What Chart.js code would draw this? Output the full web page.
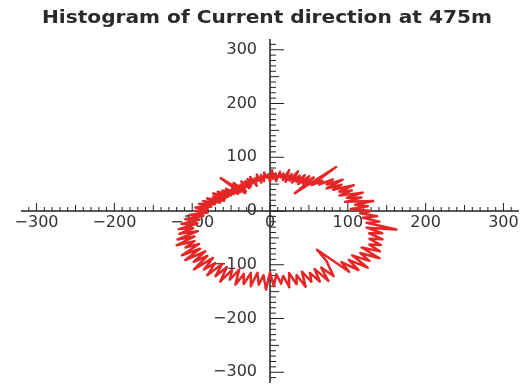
<!DOCTYPE html>
<html lang="en">
<head>
<meta charset="UTF-8">
<title>Histogram of Current direction at 475m</title>
<script src="https://cdn.jsdelivr.net/npm/chart.js@4"></script>
<style>
    html, body { margin: 0; padding: 0; background: #ffffff; }
    #wrap { width: 530px; height: 390px; }
</style>
</head>
<body>
<div id="wrap"><canvas id="chart"></canvas></div>
<script>
const titleText = "Histogram of Current direction at 475m";

// direction bins (degrees, counter-clockwise from east) and counts per bin
const binWidth = 2;
const counts = [
    130, 104, 126, 110, 134,  98, 120, 102, 124,  94,
    112,  96, 118,  90, 104,  84, 110,  88, 100,  80,
     88,  72, 118,  46,  84,  66,  82,  62,  80,  64,
     76,  60,  82,  62,  74,  58,  80,  60,  72,  64,
     74,  56,  70,  60,  76,  54,  68,  62,  72,  56,
     68,  54,  70,  58,  64,  50,  68,  56,  66,  52,
     64,  50,  66,  54,  62,  48,  70,  46,  88,  52,
     64,  52,  70,  56,  72,  58,  76,  60,  80,  62,
     78,  62,  84,  66,  88,  72,  92,  76,  96,  80,
     96,  80, 104,  86, 110,  92, 116,  96, 122, 104,
    124, 100, 130, 108, 136, 112, 128, 110, 140, 114,
    142, 112, 136, 116, 146, 114, 138, 120, 144, 116,
    140, 118, 146, 120, 138, 116, 144, 122, 140, 118,
    142, 116, 138, 120, 146, 114, 140, 118, 136, 122,
    144, 118, 140, 124, 148, 120, 142, 126, 146, 122,
    150, 124, 146, 130, 118,  94, 152, 132, 158, 136,
    164, 134, 158, 140, 166, 136, 160, 142, 156, 138,
    154, 134, 150, 128, 166, 126, 142, 120, 138, 116
];
const directions = counts.map((c, i) => i * binWidth);

const xTicks = [-300, -200, -100, 0, 100, 200, 300];
const yTicks = [300, 200, 100, 0, -100, -200, -300];
const axisMin = -320, axisMax = 320;

// polar histogram -> x/y points, closed loop
const points = counts.map((c, i) => {
    const a = directions[i] * Math.PI / 180;
    return { x: c * Math.cos(a), y: c * Math.sin(a) };
});
points.push(points[0]);

const fmt = v => String(v).replace('-', '\u2212');

// axes crossing at the origin, ticks and labels drawn from the scales
const crossAxes = {
    id: 'crossAxes',
    beforeDatasetsDraw(chart) {
        const { ctx, scales: { x, y } } = chart;
        const x0 = x.getPixelForValue(0);
        const y0 = y.getPixelForValue(0);
        ctx.save();
        ctx.strokeStyle = '#222';
        ctx.lineWidth = 1.5;
        ctx.beginPath();
        ctx.moveTo(x.getPixelForValue(axisMin), y0);
        ctx.lineTo(x.getPixelForValue(axisMax), y0);
        ctx.moveTo(x0, y.getPixelForValue(axisMax));
        ctx.lineTo(x0, y.getPixelForValue(axisMin));
        ctx.stroke();

        ctx.lineWidth = 1;
        ctx.beginPath();
        for (let v = -310; v <= 310; v += 10) {
            const major = v % 100 === 0, half = v % 50 === 0;
            const px = x.getPixelForValue(v);
            ctx.moveTo(px, y0);
            ctx.lineTo(px, y0 - (major ? 8 : half ? 6 : 4));
            const py = y.getPixelForValue(v);
            ctx.moveTo(x0, py);
            ctx.lineTo(x0 + (major ? 14 : half ? 9 : 6), py);
        }
        ctx.stroke();

        ctx.fillStyle = '#333';
        ctx.font = '16px "DejaVu Sans"';
        ctx.textAlign = 'center';
        ctx.textBaseline = 'top';
        xTicks.forEach(v => ctx.fillText(fmt(v), x.getPixelForValue(v), y0 + 4));
        ctx.textAlign = 'right';
        ctx.textBaseline = 'middle';
        yTicks.forEach(v => ctx.fillText(fmt(v), x0 - 13, y.getPixelForValue(v)));
        ctx.restore();
    },
    afterDraw(chart) {
        const ctx = chart.ctx;
        ctx.save();
        ctx.font = 'bold 17px "DejaVu Sans"';
        ctx.fillStyle = '#2a2a2a';
        ctx.textBaseline = 'alphabetic';
        const w = ctx.measureText(titleText).width;
        const target = 450;
        ctx.translate(267, 23);
        ctx.scale(target / w, 1);
        ctx.textAlign = 'center';
        ctx.fillText(titleText, 0, 0);
        ctx.restore();
    }
};

new Chart(document.getElementById('chart'), {
    type: 'scatter',
    data: {
        datasets: [{
            data: points,
            showLine: true,
            borderColor: 'rgb(228, 38, 38)',
            borderWidth: 2.5,
            borderJoinStyle: 'round',
            pointRadius: 0,
            tension: 0
        }]
    },
    options: {
        responsive: true,
        maintainAspectRatio: false,
        animation: false,
        layout: { padding: { left: 21, right: 11, top: 39, bottom: 7 } },
        scales: {
            x: { type: 'linear', min: axisMin, max: axisMax, display: false },
            y: { type: 'linear', min: axisMin, max: axisMax, display: false }
        },
        plugins: {
            legend: { display: false },
            tooltip: { enabled: false }
        }
    },
    plugins: [crossAxes]
});
</script>
</body>
</html>
